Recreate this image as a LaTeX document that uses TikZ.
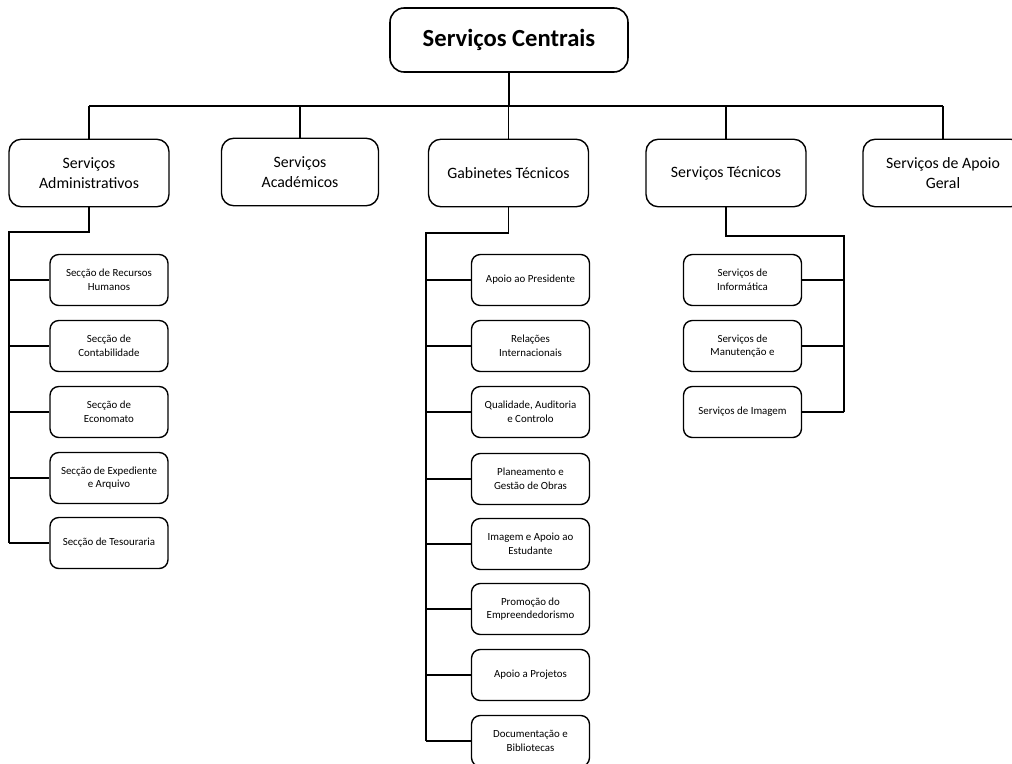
\documentclass[tikz,border=0pt]{standalone}
\usepackage{fontspec}
\setmainfont{Carlito}
\usepackage{tikz}
\usetikzlibrary{calc}
\tikzset{
  topbox/.style={draw, line width=0.9pt, rounded corners=8pt, minimum width=4.76cm, minimum height=1.28cm, font=\fontsize{14}{16}\selectfont\bfseries},
  unitbox/.style={draw, line width=0.8pt, rounded corners=7pt, minimum width=3.2cm, minimum height=1.35cm, align=center, font=\fontsize{9}{11.5}\selectfont},
  subbox/.style={draw, line width=0.8pt, rounded corners=5pt, minimum width=2.36cm, minimum height=1.02cm, align=center, font=\fontsize{6.2}{7.8}\selectfont},
  link/.style={line width=0.6pt}
}
\begin{document}
\begin{tikzpicture}[x=0.02cm, y=-0.02cm]
            \useasboundingbox (0,0) rectangle (1012,764);
            
            % Drawing top box
            \node [topbox] (central) at (509,40) {Serviços Centrais};
            
            % Drawing second level
            \node [unitbox] (adm) at (89,173) {Serviços\\Administrativos};
            \node [unitbox, minimum width=3.14cm] (acad) at (300,172) {Serviços\\Académicos};
            \node [unitbox] (gab) at (508.5,173) {Gabinetes Técnicos};
            \node [unitbox] (tec) at (726,173) {Serviços Técnicos};
            \node [unitbox] (apoio) at (943,173) {Serviços de Apoio\\Geral};
            
            % Drawing bus to second level
            \coordinate (busL) at (89,106);
            \coordinate (busR) at (943,106);
            \draw [link] (central.south) -- (central.south |- busL);
            \draw [link] (busL) -- (busR);
            \foreach \u in {adm,acad,gab,tec,apoio}
              \draw [link] (\u.north) -- (\u.north |- busL);
            
            % Drawing Serviços Administrativos sections
            \node [subbox] (a1) at (109,280) {Secção de Recursos\\Humanos};
            \node [subbox] (a2) at (109,346) {Secção de\\Contabilidade};
            \node [subbox] (a3) at (109,412) {Secção de\\Economato};
            \node [subbox] (a4) at (109,478) {Secção de Expediente\\e Arquivo};
            \node [subbox] (a5) at (109,543) {Secção de Tesouraria};
            \coordinate (admtop) at (9,232);
            \coordinate (admend) at (9,543);
            \draw [link] (adm.south) |- (admtop) -- (admend);
            \foreach \s in {a1,a2,a3,a4,a5}
              \draw [link] (admtop |- \s.west) -- (\s.west);
            
            % Drawing Gabinetes Técnicos offices
            \node [subbox] (g1) at (530.5,280) {Apoio ao Presidente};
            \node [subbox] (g2) at (530.5,346) {Relações\\Internacionais};
            \node [subbox] (g3) at (530.5,412) {Qualidade, Auditoria\\e Controlo};
            \node [subbox] (g4) at (530.5,479) {Planeamento e\\Gestão de Obras};
            \node [subbox] (g5) at (530.5,544) {Imagem e Apoio ao\\Estudante};
            \node [subbox] (g6) at (530.5,609) {Promoção do\\Empreendedorismo};
            \node [subbox] (g7) at (530.5,675) {Apoio a Projetos};
            \node [subbox] (g8) at (530.5,741) {Documentação e\\Bibliotecas};
            \coordinate (gabtop) at (426,233);
            \coordinate (gabend) at (426,741);
            \draw [link] (gab.south) |- (gabtop) -- (gabend);
            \foreach \s in {g1,g2,g3,g4,g5,g6,g7,g8}
              \draw [link] (gabtop |- \s.west) -- (\s.west);
            
            % Drawing Serviços Técnicos services
            \node [subbox] (t1) at (742.5,280) {Serviços de\\Informática};
            \node [subbox] (t2) at (742.5,346) {Serviços de\\Manutenção e};
            \node [subbox] (t3) at (742.5,412) {Serviços de Imagem};
            \coordinate (tectop) at (844,236);
            \coordinate (tecend) at (844,412);
            \draw [link] (tec.south) |- (tectop) -- (tecend);
            \foreach \s in {t1,t2,t3}
              \draw [link] (\s.east) -- (tectop |- \s.east);
\end{tikzpicture}
\end{document}
